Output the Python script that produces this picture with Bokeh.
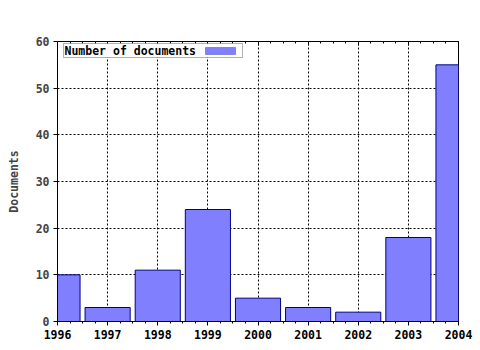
from bokeh.plotting import figure
from bokeh.models import LinearAxis, FixedTicker, Range1d, BoxAnnotation, Label
from bokeh.embed import file_html
from bokeh.resources import INLINE

years = [1996, 1997, 1998, 1999, 2000, 2001, 2002, 2003, 2004]
documents = [10, 3, 11, 24, 5, 3, 2, 18, 55]
y_ticks = [0, 10, 20, 30, 40, 50, 60]
series_name = "Number of documents"
y_label = "Documents"

FONT = "DejaVu Sans Mono"
FS = "11.5px"
FILL = "#8080ff"
EDGE = "#000080"

p = figure(width=480, height=350, output_backend="svg", toolbar_location=None,
           x_range=Range1d(1996, 2004), y_range=Range1d(0, 60),
           min_border_left=57, min_border_right=22, min_border_top=41, min_border_bottom=29,
           x_axis_location=None, y_axis_location=None)
p.background_fill_color = "white"
p.border_fill_color = "white"
p.outline_line_color = "black"
p.outline_line_width = 1

minor = [y + q for y in years[:-1] for q in (0.25, 0.5, 0.75)]
xt = FixedTicker(ticks=years, minor_ticks=minor)
yt = FixedTicker(ticks=y_ticks)

p.xgrid.ticker = xt
p.ygrid.ticker = yt
for g in (p.xgrid, p.ygrid):
    g.grid_line_color = "black"
    g.grid_line_dash = "2 2"
    g.grid_line_width = 1

r = p.vbar(x=years, top=documents, width=0.9, fill_color=FILL,
           line_color=EDGE, line_width=1)

xb = LinearAxis(ticker=xt)
xb.major_label_text_font = FONT
xb.major_label_text_font_style = "bold"
xb.major_label_text_font_size = FS
xb.major_label_text_color = "black"
xb.major_tick_out = 4
xb.major_tick_in = 0
xb.minor_tick_out = 2
xb.minor_tick_in = 0
xb.major_label_standoff = 4
xb.axis_line_color = "black"
p.add_layout(xb, "below")

xa = LinearAxis(ticker=xt)
xa.major_label_text_font_size = "0px"
xa.major_label_text_alpha = 0
xa.major_tick_out = 0
xa.major_tick_in = 4
xa.minor_tick_out = 0
xa.minor_tick_in = 2
xa.axis_line_color = "black"
p.add_layout(xa, "above")

yl = LinearAxis(ticker=yt)
yl.axis_label = y_label
yl.axis_label_text_font = FONT
yl.axis_label_text_font_style = "bold"
yl.axis_label_text_font_size = FS
yl.axis_label_standoff = 12
yl.major_label_text_font = FONT
yl.major_label_text_font_style = "bold"
yl.major_label_text_font_size = FS
yl.major_tick_out = 4
yl.major_tick_in = 0
yl.minor_tick_out = 0
yl.minor_tick_in = 0
yl.major_label_standoff = 4
yl.axis_line_color = "black"
p.add_layout(yl, "left")

# legend: text then swatch, inside a bordered box (frame-relative screen units)
p.add_layout(BoxAnnotation(left=6, right=185, bottom=264, top=278,
                           left_units="screen", right_units="screen",
                           bottom_units="screen", top_units="screen",
                           fill_color="white", fill_alpha=1,
                           line_color="black", line_width=1, level="overlay"))
p.add_layout(BoxAnnotation(left=148, right=178, bottom=267, top=274,
                           left_units="screen", right_units="screen",
                           bottom_units="screen", top_units="screen",
                           fill_color=FILL, fill_alpha=1,
                           line_color=EDGE, line_width=1, level="overlay"))
p.add_layout(Label(x=7, y=271, x_units="screen", y_units="screen",
                   text=series_name, text_font=FONT, text_font_style="bold",
                   text_font_size=FS, text_color="black", text_baseline="middle",
                   level="overlay"))

open("out.html", "w").write(file_html(p, INLINE))
